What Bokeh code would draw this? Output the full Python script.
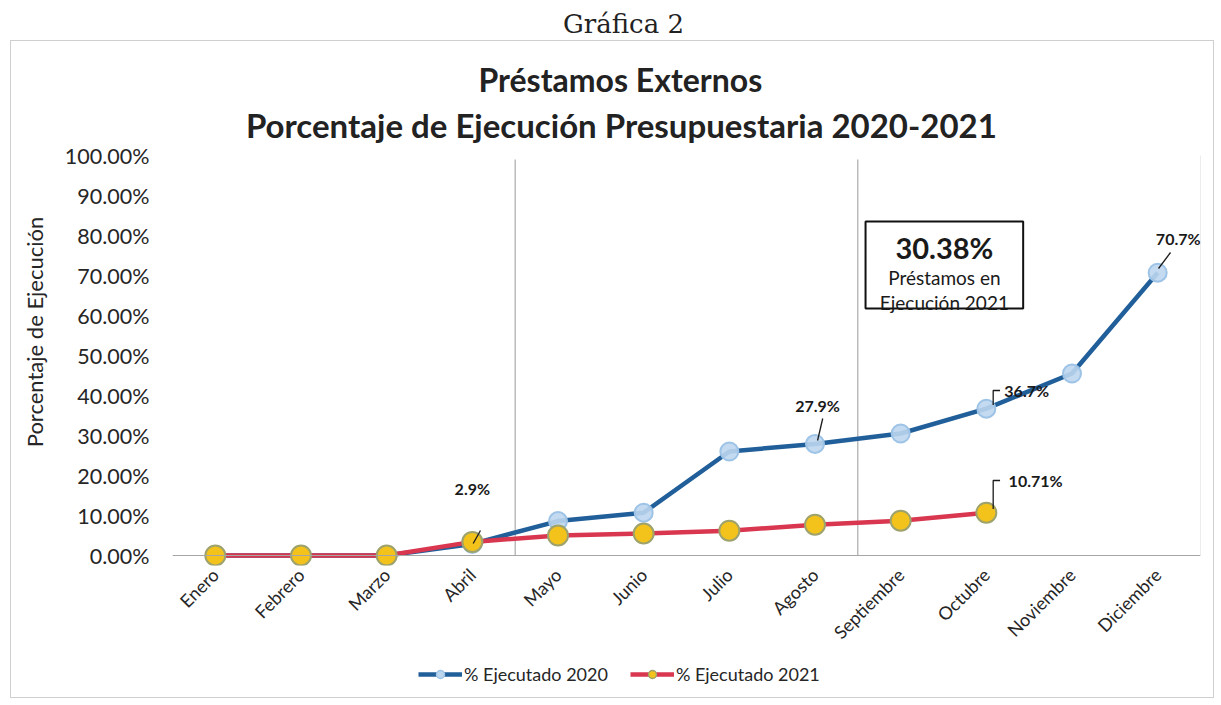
import math
from bokeh.plotting import figure
from bokeh.layouts import column
from bokeh.models import (Label, Span, BoxAnnotation, Legend, LegendItem, FactorRange,
                          Range1d, PrintfTickFormatter, FixedTicker, Title)
from bokeh.core.properties import value
from bokeh.embed import file_html
from bokeh.resources import INLINE

# ---- data ----
meses = ["Enero", "Febrero", "Marzo", "Abril", "Mayo", "Junio", "Julio",
         "Agosto", "Septiembre", "Octubre", "Noviembre", "Diciembre"]
ejec_2020 = [0.0, 0.0, 0.0, 2.9, 8.6, 10.7, 26.0, 27.9, 30.5, 36.7, 45.5, 70.7]
meses_2021 = meses[:10]
ejec_2021 = [0.0, 0.0, 0.0, 3.4, 5.0, 5.5, 6.2, 7.7, 8.7, 10.71]
y_ticks = [0, 10, 20, 30, 40, 50, 60, 70, 80, 90, 100]
total_2021 = "30.38%"
nombre_2020 = "% Ejecutado 2020"
nombre_2021 = "% Ejecutado 2021"

FONT = "Lato"
BLUE = "#215f9a"
RED = "#d9364f"
TXT = "#262626"

# ---- header with "Gráfica 2" ----
head = figure(width=1221, height=40, output_backend="svg", toolbar_location=None,
              x_range=Range1d(0, 1221), y_range=Range1d(0, 40),
              x_axis_location=None, y_axis_location=None, min_border=0)
head.outline_line_color = None
head.grid.visible = False
head.text(x=[623], y=[17], text=["Gráfica 2"], text_align="center", text_baseline="middle",
          text_font=value("DejaVu Serif"), text_font_size="26px", text_color="#222222")

# ---- main chart ----
p = figure(width=1202, height=615, output_backend="svg", toolbar_location=None,
           x_range=FactorRange(*meses), y_range=Range1d(-2.5, 114.25),
           min_border_left=161, min_border_right=13, min_border_top=57,
           min_border_bottom=91)
p.outline_line_color = None
p.xgrid.grid_line_color = None
p.ygrid.grid_line_color = None
p.title.visible = False
p.add_layout(Title(text="Préstamos Externos", align="left", offset=306, standoff=0,
                   vertical_align="bottom", text_font=FONT, text_font_size="32px",
                   text_font_style="bold", text_color="#222222"), "above")

# y axis
p.yaxis.ticker = FixedTicker(ticks=y_ticks)
p.yaxis.formatter = PrintfTickFormatter(format="%.2f%%")
p.yaxis.axis_line_color = None
p.yaxis.major_tick_line_color = None
p.yaxis.minor_tick_line_color = None
p.yaxis.major_label_standoff = 17
p.yaxis.major_label_text_font = FONT
p.yaxis.major_label_text_font_size = "21.5px"
p.yaxis.major_label_text_color = TXT
p.yaxis.axis_label = "Porcentaje de Ejecución"
p.yaxis.axis_label_text_font = FONT
p.yaxis.axis_label_text_font_style = "normal"
p.yaxis.axis_label_text_font_size = "22px"
p.yaxis.axis_label_text_color = TXT
p.yaxis.axis_label_standoff = 14

# x axis
p.xaxis.axis_line_color = None
p.xaxis.major_tick_line_color = None
p.xaxis.minor_tick_line_color = None
p.xaxis.major_label_orientation = math.pi / 4
p.xaxis.major_label_standoff = 0
p.xaxis.major_label_text_font = FONT
p.xaxis.major_label_text_font_size = "18px"
p.xaxis.major_label_text_color = TXT

# baseline and separators
p.add_layout(Span(location=0, dimension="width", line_color="#a6a6a6", line_width=1.2))
p.segment(x0=[4, 8], y0=[0, 0], x1=[4, 8], y1=[99, 99], line_color="#9a9a9a", line_width=1)
p.segment(x0=[12], y0=[0], x1=[12], y1=[100], line_color="#d9d9d9", line_width=1)

# series
l20 = p.line(meses, ejec_2020, line_color=BLUE, line_width=4.5)
c20 = p.scatter(meses, ejec_2020, size=18, marker="circle", fill_color="#bcd6ee",
                fill_alpha=0.9, line_color="#9dc3e6", line_width=2)
l21 = p.line(meses_2021, ejec_2021, line_color=RED, line_width=4.5)
c21 = p.scatter(meses_2021, ejec_2021, size=20, marker="circle", fill_color="#f3c31c",
                line_color="#9ea26c", line_width=2)

# data labels with leaders
def lab(x, y, t, size="16px", bold=True, align="center", color="#1a1a1a"):
    p.add_layout(Label(x=x, y=y, text=t, text_align=align, text_baseline="middle",
                       text_font=FONT, text_font_size=size,
                       text_font_style="bold" if bold else "normal",
                       text_color=color))

lab(3.5, 16.75, "2.9%")
p.segment(x0=[3.595], y0=[6.25], x1=[3.51], y1=[3.0], line_color="#1a1a1a", line_width=1.3)
lab(7.53, 37.5, "27.9%")
p.segment(x0=[7.59], y0=[34.25], x1=[7.53], y1=[28.75], line_color="#1a1a1a", line_width=1.3)
lab(9.71, 41.25, "36.7%", align="left")
p.multi_line(xs=[[9.66, 9.58, 9.58]], ys=[[41.25, 41.25, 37.6]], line_color="#1a1a1a", line_width=1.3)
lab(9.76, 18.75, "10.71%", align="left")
p.multi_line(xs=[[9.66, 9.58, 9.58]], ys=[[18.75, 18.75, 11.6]], line_color="#1a1a1a", line_width=1.3)
lab(11.74, 79.25, "70.7%")
p.segment(x0=[11.65], y0=[75.75], x1=[11.51], y1=[71.75], line_color="#1a1a1a", line_width=1.3)

# text box
p.add_layout(BoxAnnotation(left=8.09, right=9.93, top=83.5, bottom=61.75,
                           fill_color="white", fill_alpha=1, line_color="#111111",
                           line_alpha=1, line_width=2, level="underlay"))
lab(9.01, 77.0, total_2021, size="29px")
lab(9.01, 69.5, "Préstamos en", size="19px", bold=False)
lab(9.01, 63.25, "Ejecución 2021", size="19px", bold=False)

# second title line (inside the frame)
lab(5.24, 107.75, "Porcentaje de Ejecución Presupuestaria 2020-2021", size="33px", color="#222222")

# ---- footer with legend ----
foot = figure(width=1202, height=41, output_backend="svg", toolbar_location=None,
              x_range=Range1d(0, 1), y_range=Range1d(0, 1),
              x_axis_location=None, y_axis_location=None, min_border=0,
              min_border_bottom=5)
foot.outline_line_color = None
foot.grid.visible = False
fl20 = foot.line(x=[-5, -4], y=[-5, -5], line_color=BLUE, line_width=4.5)
fc20 = foot.scatter(x=[-5], y=[-5], size=14, marker="circle", fill_color="#bcd6ee",
                    line_color="#9dc3e6", line_width=1.5)
fl21 = foot.line(x=[-5, -4], y=[-5, -5], line_color=RED, line_width=4.5)
fc21 = foot.scatter(x=[-5], y=[-5], size=14, marker="circle", fill_color="#f3c31c",
                    line_color="#9ea26c", line_width=1.5)
legend = Legend(items=[LegendItem(label=nombre_2020, renderers=[fl20, fc20]),
                       LegendItem(label=nombre_2021, renderers=[fl21, fc21])],
                orientation="horizontal", location="center_left",
                border_line_color=None, background_fill_alpha=0,
                label_text_font=FONT, label_text_font_size="18px",
                label_text_color=TXT, glyph_width=44, spacing=22,
                label_standoff=2, margin=246, padding=2)
foot.add_layout(legend)

box = column(p, foot, spacing=0, margin=(0, 0, 0, 10),
             styles={"border": "1px solid #cfcfcf"})
page = column(head, box, spacing=0)

open("out.html", "w").write(file_html(page, INLINE))
